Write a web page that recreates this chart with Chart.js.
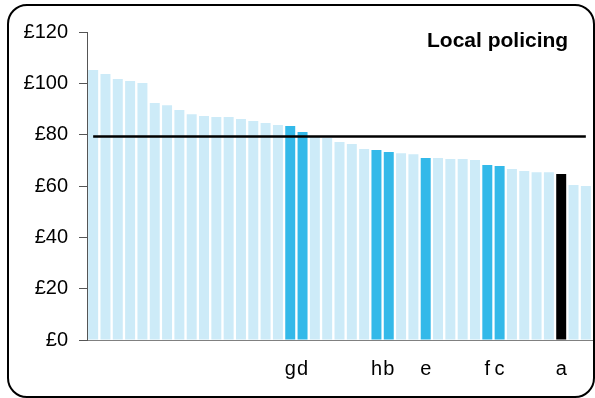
<!DOCTYPE html>
<html>
<head>
<meta charset="utf-8">
<script src="https://cdn.jsdelivr.net/npm/chart.js@4/dist/chart.umd.min.js"></script>
<style>
  body { margin: 0; background: #fff; }
  #wrap { position: relative; width: 595px; height: 398px; overflow: hidden; }
  #frame { position: absolute; left: 7px; top: 4px; width: 588px; height: 394px; box-sizing: border-box;
           border: 2px solid #000; border-radius: 20px; pointer-events: none; }
  #title { position: absolute; left: 427px; top: 28px; font: bold 21px "Liberation Sans", Arial, sans-serif; color: #000; }
</style>
</head>
<body>
<div id="wrap">
  <canvas id="chart" width="595" height="398"></canvas>
  <div id="frame"></div>
  <div id="title">Local policing</div>
</div>
<script>
const areaLabels = ['', '', '', '', '', '', '', '', '', '', '', '', '', '', '', '', 'g', 'd', '', '', '', '', '', 'h', 'b', '', '', 'e', '', '', '', '', 'f', 'c', '', '', '', '', 'a', '', ''];
const spending = [105.2, 103.6, 101.7, 100.9, 100.1, 92.3, 91.5, 89.6, 88.0, 87.3, 86.9, 86.9, 86.1, 85.3, 84.5, 83.8,
                  83.4, 81.0, 79.2, 78.7, 77.1, 76.4, 74.4, 74.0, 73.2, 72.8, 72.4, 70.9, 70.9, 70.5, 70.5, 70.1,
                  68.2, 67.8, 66.6, 65.8, 65.4, 65.4, 64.7, 60.4, 60.0];
const average = 79.3;
const yTicks = [0, 20, 40, 60, 80, 100, 120];

const lightBlue = '#cdebf8';
const brightBlue = '#33b9e9';

const barColours = areaLabels.map(l => {
    if (l === 'a') return '#000000';
    if (l !== '') return brightBlue;
    return lightBlue;
});

const ctx = document.getElementById('chart');

new Chart(ctx, {
    data: {
        labels: areaLabels,
        datasets: [{
            type: 'line',
            data: areaLabels.map(() => average),
            borderColor: '#000',
            borderWidth: 2.5,
            pointRadius: 0,
            order: 0
        }, {
            type: 'bar',
            data: spending,
            backgroundColor: barColours,
            barPercentage: 0.81,
            categoryPercentage: 1,
            order: 1
        }]
    },
    options: {
        responsive: false,
        animation: false,
        layout: { padding: { top: 32, left: 0, right: 3, bottom: 0 } },
        plugins: { legend: { display: false }, tooltip: { enabled: false } },
        scales: {
            x: {
                grid: { display: false, drawTicks: false },
                border: { color: '#808080', width: 1 },
                ticks: {
                    autoSkip: false, maxRotation: 0, padding: 17, color: '#000',
                    font: { family: '"Liberation Sans", Arial, sans-serif', size: 20 }
                },
                afterFit: (scale) => {
                    scale.height = 58;
                    scale.paddingLeft = 0;
                    scale.paddingRight = 0;
                }
            },
            y: {
                min: 0, max: 120,
                afterBuildTicks: (scale) => { scale.ticks = yTicks.map(v => ({ value: v })); },
                grid: { drawOnChartArea: false, drawTicks: true, tickLength: 8, color: '#555' },
                border: { color: '#555', width: 1 },
                ticks: {
                    padding: 11, color: '#000',
                    font: { family: '"Liberation Sans", Arial, sans-serif', size: 20 },
                    callback: (v) => '£' + v
                },
                afterFit: (scale) => { scale.width = 87; }
            }
        }
    }
});
</script>
</body>
</html>
